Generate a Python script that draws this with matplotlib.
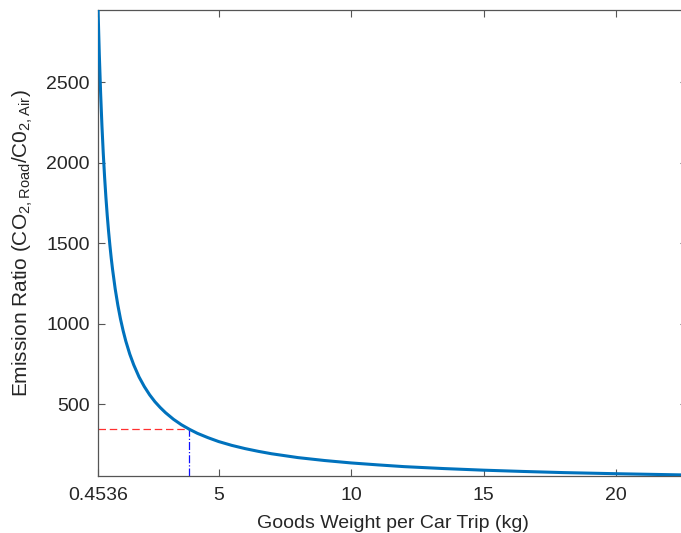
import numpy as np
from matplotlib import pyplot as plt

plt.rcParams['font.family'] = ['Liberation Sans', 'DejaVu Sans']
plt.rcParams['mathtext.fontset'] = 'custom'
plt.rcParams['mathtext.rm'] = 'Liberation Sans'

# goods weight per car trip (kg) and emission ratio
weight = [0.4536, 0.5, 0.55, 0.6, 0.65, 0.7, 0.75, 0.8, 0.85, 0.9, 0.95,
          1.0, 1.1, 1.2, 1.3, 1.4, 1.5, 1.65, 1.8, 2.0, 2.2, 2.4, 2.6, 2.8,
          3.0, 3.3, 3.6, 3.9, 4.2, 4.6, 5.0, 5.5, 6.0, 6.5, 7.0, 8.0, 9.0,
          10.0, 11.0, 12.0, 13.5, 15.0, 16.5, 18.0, 20.0, 22.68]
ratio = [2947, 2674, 2431, 2228, 2057, 1910, 1783, 1671, 1573, 1486, 1407,
         1337, 1215, 1114, 1028, 955, 891, 810, 743, 668, 608, 557, 514, 478,
         446, 405, 371, 343, 318, 291, 267, 243, 223, 206, 191, 167, 149,
         134, 122, 111, 99, 89, 81, 74, 67, 59]

# marked operating point
mark_x = 3.9
mark_y = 343

xticks = [0.4536, 5, 10, 15, 20]
xticklabels = ['0.4536', '5', '10', '15', '20']
yticks = [500, 1000, 1500, 2000, 2500]

fig = plt.figure(figsize=(6.81, 5.33), dpi=100)
ax = fig.add_axes([0.144, 0.107, 1.009 - 0.144, 0.981 - 0.107])

ax.plot(weight, ratio, color='#0072BD', linewidth=2.2, zorder=3)
ax.plot([weight[0], mark_x], [mark_y, mark_y], color='#ff3030', linewidth=0.9,
        dashes=(6, 3))
ax.plot([mark_x, mark_x], [53, mark_y], '-.', color='#1010ff', linewidth=0.9)

ax.set_xlim(0.4536, 22.68)
ax.set_ylim(53, 2947)
ax.set_xticks(xticks)
ax.set_xticklabels(xticklabels)
ax.set_yticks(yticks)

ax.tick_params(direction='in', top=True, right=True, labelsize=14,
               color='#555555', length=5, width=0.8, labelcolor='#262626')
ax.tick_params(axis='x', pad=8)
ax.tick_params(axis='y', pad=6)
for s in ax.spines.values():
    s.set_color('#555555')
    s.set_linewidth(0.9)

ax.set_xlabel('Goods Weight per Car Trip (kg)', fontsize=14, color='#262626',
              labelpad=8)
ax.set_ylabel(r'Emission Ratio (CO$_{\mathregular{2,Road}}$/C0$_{\mathregular{2,Air}}$)',
              fontsize=15, color='#262626', labelpad=8)

fig.savefig('out.png', dpi=100)
